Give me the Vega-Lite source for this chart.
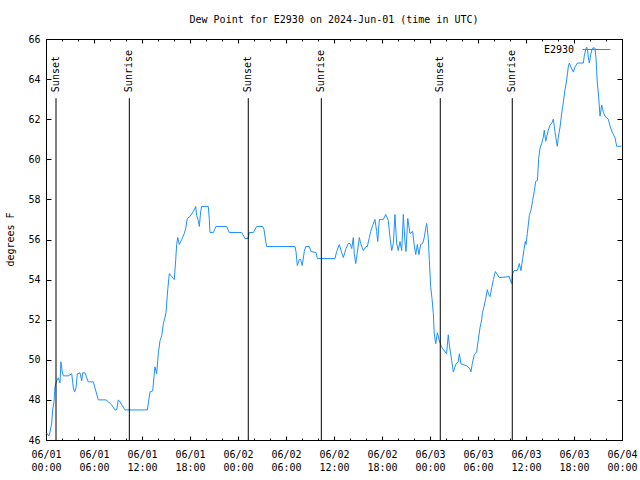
{
  "$schema": "https://vega.github.io/schema/vega-lite/v6.json",
  "width": 576,
  "height": 401,
  "autosize": {"type": "none"},
  "padding": {"left": 46, "top": 39, "right": 18, "bottom": 40},
  "background": "white",
  "title": {"text": "Dew Point for E2930 on 2024-Jun-01 (time in UTC)", "font": "DejaVu Sans Mono", "fontSize": 10, "fontWeight": "normal", "color": "black", "anchor": "middle", "baseline": "bottom", "offset": -1},
  "config": {
    "view": {"stroke": "black", "strokeWidth": 1},
    "axis": {"labelFont": "DejaVu Sans Mono", "labelFontSize": 10, "labelColor": "black", "titleFont": "DejaVu Sans Mono", "titleFontSize": 10, "titleFontWeight": "normal", "titleColor": "black", "tickColor": "black", "tickWidth": 1, "grid": false, "domain": false},
    "legend": {"orient": "none", "legendX": 536, "legendY": -4, "symbolType": "stroke", "symbolSize": 784, "symbolStrokeWidth": 1, "labelAlign": "right", "labelOffset": -37, "labelFont": "DejaVu Sans Mono", "labelFontSize": 10, "labelColor": "black", "padding": 0}
  },
  "datasets": {
    "dew": [
      {"t": "2024-06-01T00:05:00Z", "v": 46.35}, {"t": "2024-06-01T00:22:00Z", "v": 46.2}, {"t": "2024-06-01T00:30:00Z", "v": 46.4}, {"t": "2024-06-01T00:43:00Z", "v": 46.85}, {"t": "2024-06-01T00:50:00Z", "v": 47.5}, {"t": "2024-06-01T01:00:00Z", "v": 47.9}, {"t": "2024-06-01T01:07:00Z", "v": 48.65}, {"t": "2024-06-01T01:20:00Z", "v": 48.95}, {"t": "2024-06-01T01:32:00Z", "v": 49.1}, {"t": "2024-06-01T01:45:00Z", "v": 48.85}, {"t": "2024-06-01T01:52:00Z", "v": 49.9}, {"t": "2024-06-01T02:02:00Z", "v": 49.4}, {"t": "2024-06-01T02:10:00Z", "v": 49.2}, {"t": "2024-06-01T02:47:00Z", "v": 49.2}, {"t": "2024-06-01T03:13:00Z", "v": 49.3}, {"t": "2024-06-01T03:25:00Z", "v": 48.6}, {"t": "2024-06-01T03:35:00Z", "v": 48.4}, {"t": "2024-06-01T03:45:00Z", "v": 48.6}, {"t": "2024-06-01T03:55:00Z", "v": 49.3}, {"t": "2024-06-01T04:15:00Z", "v": 49.35}, {"t": "2024-06-01T04:28:00Z", "v": 48.95}, {"t": "2024-06-01T04:35:00Z", "v": 49.35}, {"t": "2024-06-01T04:52:00Z", "v": 49.35}, {"t": "2024-06-01T05:17:00Z", "v": 48.9}, {"t": "2024-06-01T05:55:00Z", "v": 48.9}, {"t": "2024-06-01T06:32:00Z", "v": 48.0}, {"t": "2024-06-01T07:30:00Z", "v": 48.0}, {"t": "2024-06-01T08:13:00Z", "v": 47.75}, {"t": "2024-06-01T08:37:00Z", "v": 47.5}, {"t": "2024-06-01T08:50:00Z", "v": 47.5}, {"t": "2024-06-01T09:02:00Z", "v": 48.0}, {"t": "2024-06-01T09:15:00Z", "v": 47.9}, {"t": "2024-06-01T09:52:00Z", "v": 47.5}, {"t": "2024-06-01T12:40:00Z", "v": 47.5}, {"t": "2024-06-01T13:00:00Z", "v": 48.4}, {"t": "2024-06-01T13:20:00Z", "v": 48.45}, {"t": "2024-06-01T13:37:00Z", "v": 49.65}, {"t": "2024-06-01T13:50:00Z", "v": 49.3}, {"t": "2024-06-01T14:02:00Z", "v": 50.3}, {"t": "2024-06-01T14:15:00Z", "v": 50.95}, {"t": "2024-06-01T14:28:00Z", "v": 51.2}, {"t": "2024-06-01T14:40:00Z", "v": 51.8}, {"t": "2024-06-01T14:52:00Z", "v": 52.1}, {"t": "2024-06-01T15:00:00Z", "v": 52.35}, {"t": "2024-06-01T15:13:00Z", "v": 53.5}, {"t": "2024-06-01T15:25:00Z", "v": 54.3}, {"t": "2024-06-01T15:43:00Z", "v": 54.15}, {"t": "2024-06-01T16:02:00Z", "v": 54.0}, {"t": "2024-06-01T16:13:00Z", "v": 55.0}, {"t": "2024-06-01T16:20:00Z", "v": 55.75}, {"t": "2024-06-01T16:28:00Z", "v": 56.1}, {"t": "2024-06-01T16:40:00Z", "v": 55.75}, {"t": "2024-06-01T16:58:00Z", "v": 56.0}, {"t": "2024-06-01T17:17:00Z", "v": 56.3}, {"t": "2024-06-01T17:28:00Z", "v": 56.55}, {"t": "2024-06-01T17:40:00Z", "v": 57.05}, {"t": "2024-06-01T18:00:00Z", "v": 57.15}, {"t": "2024-06-01T18:25:00Z", "v": 57.4}, {"t": "2024-06-01T18:43:00Z", "v": 57.65}, {"t": "2024-06-01T18:50:00Z", "v": 57.2}, {"t": "2024-06-01T19:02:00Z", "v": 56.95}, {"t": "2024-06-01T19:10:00Z", "v": 56.65}, {"t": "2024-06-01T19:20:00Z", "v": 57.4}, {"t": "2024-06-01T19:28:00Z", "v": 57.65}, {"t": "2024-06-01T20:17:00Z", "v": 57.65}, {"t": "2024-06-01T20:25:00Z", "v": 57.0}, {"t": "2024-06-01T20:30:00Z", "v": 56.35}, {"t": "2024-06-01T20:55:00Z", "v": 56.35}, {"t": "2024-06-01T21:15:00Z", "v": 56.65}, {"t": "2024-06-01T22:35:00Z", "v": 56.65}, {"t": "2024-06-01T22:55:00Z", "v": 56.35},
      {"t": "2024-06-02T00:28:00Z", "v": 56.35}, {"t": "2024-06-02T00:45:00Z", "v": 56.15}, {"t": "2024-06-02T00:52:00Z", "v": 56.05}, {"t": "2024-06-02T01:15:00Z", "v": 56.05}, {"t": "2024-06-02T01:25:00Z", "v": 56.35}, {"t": "2024-06-02T01:55:00Z", "v": 56.35}, {"t": "2024-06-02T02:20:00Z", "v": 56.65}, {"t": "2024-06-02T03:05:00Z", "v": 56.65}, {"t": "2024-06-02T03:15:00Z", "v": 56.5}, {"t": "2024-06-02T03:28:00Z", "v": 55.9}, {"t": "2024-06-02T03:35:00Z", "v": 55.65}, {"t": "2024-06-02T07:07:00Z", "v": 55.65}, {"t": "2024-06-02T07:15:00Z", "v": 55.4}, {"t": "2024-06-02T07:25:00Z", "v": 54.7}, {"t": "2024-06-02T07:40:00Z", "v": 55.0}, {"t": "2024-06-02T07:50:00Z", "v": 55.0}, {"t": "2024-06-02T08:02:00Z", "v": 54.7}, {"t": "2024-06-02T08:17:00Z", "v": 55.4}, {"t": "2024-06-02T08:28:00Z", "v": 55.65}, {"t": "2024-06-02T08:55:00Z", "v": 55.65}, {"t": "2024-06-02T09:07:00Z", "v": 55.4}, {"t": "2024-06-02T09:45:00Z", "v": 55.35}, {"t": "2024-06-02T09:55:00Z", "v": 55.05}, {"t": "2024-06-02T12:07:00Z", "v": 55.05}, {"t": "2024-06-02T12:20:00Z", "v": 55.4}, {"t": "2024-06-02T12:40:00Z", "v": 55.75}, {"t": "2024-06-02T12:55:00Z", "v": 55.4}, {"t": "2024-06-02T13:10:00Z", "v": 55.1}, {"t": "2024-06-02T13:30:00Z", "v": 55.55}, {"t": "2024-06-02T13:47:00Z", "v": 55.8}, {"t": "2024-06-02T14:00:00Z", "v": 55.8}, {"t": "2024-06-02T14:13:00Z", "v": 55.55}, {"t": "2024-06-02T14:25:00Z", "v": 56.1}, {"t": "2024-06-02T14:32:00Z", "v": 55.3}, {"t": "2024-06-02T14:43:00Z", "v": 54.8}, {"t": "2024-06-02T14:55:00Z", "v": 55.35}, {"t": "2024-06-02T15:10:00Z", "v": 56.1}, {"t": "2024-06-02T15:20:00Z", "v": 55.8}, {"t": "2024-06-02T15:40:00Z", "v": 55.45}, {"t": "2024-06-02T16:00:00Z", "v": 55.65}, {"t": "2024-06-02T16:10:00Z", "v": 55.65}, {"t": "2024-06-02T16:25:00Z", "v": 56.1}, {"t": "2024-06-02T16:35:00Z", "v": 56.4}, {"t": "2024-06-02T16:50:00Z", "v": 56.7}, {"t": "2024-06-02T17:07:00Z", "v": 57.0}, {"t": "2024-06-02T17:20:00Z", "v": 56.4}, {"t": "2024-06-02T17:28:00Z", "v": 55.9}, {"t": "2024-06-02T17:40:00Z", "v": 57.0}, {"t": "2024-06-02T18:10:00Z", "v": 57.0}, {"t": "2024-06-02T18:28:00Z", "v": 57.25}, {"t": "2024-06-02T18:47:00Z", "v": 56.95}, {"t": "2024-06-02T19:00:00Z", "v": 56.1}, {"t": "2024-06-02T19:13:00Z", "v": 55.45}, {"t": "2024-06-02T19:25:00Z", "v": 55.8}, {"t": "2024-06-02T19:37:00Z", "v": 57.25}, {"t": "2024-06-02T19:50:00Z", "v": 55.8}, {"t": "2024-06-02T20:02:00Z", "v": 55.45}, {"t": "2024-06-02T20:15:00Z", "v": 55.9}, {"t": "2024-06-02T20:28:00Z", "v": 55.45}, {"t": "2024-06-02T20:40:00Z", "v": 57.25}, {"t": "2024-06-02T20:52:00Z", "v": 55.9}, {"t": "2024-06-02T21:00:00Z", "v": 55.4}, {"t": "2024-06-02T21:13:00Z", "v": 57.05}, {"t": "2024-06-02T21:30:00Z", "v": 56.3}, {"t": "2024-06-02T21:50:00Z", "v": 56.4}, {"t": "2024-06-02T22:00:00Z", "v": 55.8}, {"t": "2024-06-02T22:13:00Z", "v": 55.25}, {"t": "2024-06-02T22:25:00Z", "v": 55.75}, {"t": "2024-06-02T22:37:00Z", "v": 55.25}, {"t": "2024-06-02T22:50:00Z", "v": 55.75}, {"t": "2024-06-02T23:05:00Z", "v": 55.8}, {"t": "2024-06-02T23:17:00Z", "v": 56.1}, {"t": "2024-06-02T23:28:00Z", "v": 56.55}, {"t": "2024-06-02T23:35:00Z", "v": 56.8}, {"t": "2024-06-02T23:40:00Z", "v": 56.5}, {"t": "2024-06-02T23:47:00Z", "v": 56.05}, {"t": "2024-06-02T23:55:00Z", "v": 55.0},
      {"t": "2024-06-03T00:05:00Z", "v": 53.65}, {"t": "2024-06-03T00:15:00Z", "v": 53.05}, {"t": "2024-06-03T00:25:00Z", "v": 52.3}, {"t": "2024-06-03T00:32:00Z", "v": 51.3}, {"t": "2024-06-03T00:43:00Z", "v": 50.8}, {"t": "2024-06-03T00:55:00Z", "v": 51.35}, {"t": "2024-06-03T01:10:00Z", "v": 50.95}, {"t": "2024-06-03T01:26:00Z", "v": 50.65}, {"t": "2024-06-03T02:04:00Z", "v": 50.3}, {"t": "2024-06-03T02:17:00Z", "v": 51.25}, {"t": "2024-06-03T02:26:00Z", "v": 50.7}, {"t": "2024-06-03T02:43:00Z", "v": 49.95}, {"t": "2024-06-03T02:55:00Z", "v": 49.4}, {"t": "2024-06-03T03:15:00Z", "v": 49.8}, {"t": "2024-06-03T03:32:00Z", "v": 49.9}, {"t": "2024-06-03T03:40:00Z", "v": 50.3}, {"t": "2024-06-03T03:52:00Z", "v": 49.8}, {"t": "2024-06-03T04:35:00Z", "v": 49.7}, {"t": "2024-06-03T05:00:00Z", "v": 49.55}, {"t": "2024-06-03T05:07:00Z", "v": 49.4}, {"t": "2024-06-03T05:17:00Z", "v": 49.8}, {"t": "2024-06-03T05:32:00Z", "v": 50.25}, {"t": "2024-06-03T05:50:00Z", "v": 50.4}, {"t": "2024-06-03T06:02:00Z", "v": 51.0}, {"t": "2024-06-03T06:15:00Z", "v": 51.6}, {"t": "2024-06-03T06:28:00Z", "v": 52.0}, {"t": "2024-06-03T06:32:00Z", "v": 52.3}, {"t": "2024-06-03T06:45:00Z", "v": 52.65}, {"t": "2024-06-03T06:58:00Z", "v": 53.05}, {"t": "2024-06-03T07:10:00Z", "v": 53.5}, {"t": "2024-06-03T07:20:00Z", "v": 53.25}, {"t": "2024-06-03T07:30:00Z", "v": 53.15}, {"t": "2024-06-03T07:43:00Z", "v": 53.6}, {"t": "2024-06-03T07:55:00Z", "v": 54.0}, {"t": "2024-06-03T08:10:00Z", "v": 54.4}, {"t": "2024-06-03T08:25:00Z", "v": 54.25}, {"t": "2024-06-03T08:40:00Z", "v": 54.1}, {"t": "2024-06-03T09:55:00Z", "v": 54.15}, {"t": "2024-06-03T10:05:00Z", "v": 53.9}, {"t": "2024-06-03T10:13:00Z", "v": 53.8}, {"t": "2024-06-03T10:20:00Z", "v": 54.3}, {"t": "2024-06-03T10:30:00Z", "v": 54.45}, {"t": "2024-06-03T10:55:00Z", "v": 54.45}, {"t": "2024-06-03T11:10:00Z", "v": 54.8}, {"t": "2024-06-03T11:22:00Z", "v": 54.45}, {"t": "2024-06-03T11:35:00Z", "v": 55.05}, {"t": "2024-06-03T11:45:00Z", "v": 55.5}, {"t": "2024-06-03T11:55:00Z", "v": 55.9}, {"t": "2024-06-03T12:00:00Z", "v": 55.75}, {"t": "2024-06-03T12:10:00Z", "v": 56.3}, {"t": "2024-06-03T12:25:00Z", "v": 57.2}, {"t": "2024-06-03T12:37:00Z", "v": 57.45}, {"t": "2024-06-03T12:50:00Z", "v": 57.95}, {"t": "2024-06-03T13:02:00Z", "v": 58.4}, {"t": "2024-06-03T13:13:00Z", "v": 58.9}, {"t": "2024-06-03T13:26:00Z", "v": 58.95}, {"t": "2024-06-03T13:35:00Z", "v": 60.05}, {"t": "2024-06-03T13:45:00Z", "v": 60.55}, {"t": "2024-06-03T13:58:00Z", "v": 60.8}, {"t": "2024-06-03T14:10:00Z", "v": 61.1}, {"t": "2024-06-03T14:17:00Z", "v": 61.45}, {"t": "2024-06-03T14:28:00Z", "v": 60.9}, {"t": "2024-06-03T14:35:00Z", "v": 61.1}, {"t": "2024-06-03T14:47:00Z", "v": 61.45}, {"t": "2024-06-03T15:00:00Z", "v": 61.7}, {"t": "2024-06-03T15:13:00Z", "v": 61.8}, {"t": "2024-06-03T15:25:00Z", "v": 62.0}, {"t": "2024-06-03T15:37:00Z", "v": 61.4}, {"t": "2024-06-03T15:50:00Z", "v": 60.8}, {"t": "2024-06-03T15:55:00Z", "v": 60.65}, {"t": "2024-06-03T16:02:00Z", "v": 61.1}, {"t": "2024-06-03T16:15:00Z", "v": 61.6}, {"t": "2024-06-03T16:28:00Z", "v": 62.3}, {"t": "2024-06-03T16:40:00Z", "v": 62.85}, {"t": "2024-06-03T16:52:00Z", "v": 63.45}, {"t": "2024-06-03T17:05:00Z", "v": 63.95}, {"t": "2024-06-03T17:17:00Z", "v": 64.6}, {"t": "2024-06-03T17:25:00Z", "v": 64.8}, {"t": "2024-06-03T17:37:00Z", "v": 64.6}, {"t": "2024-06-03T17:55:00Z", "v": 64.35}, {"t": "2024-06-03T18:07:00Z", "v": 64.6}, {"t": "2024-06-03T18:25:00Z", "v": 64.8}, {"t": "2024-06-03T19:10:00Z", "v": 64.8}, {"t": "2024-06-03T19:17:00Z", "v": 65.15}, {"t": "2024-06-03T19:28:00Z", "v": 65.5}, {"t": "2024-06-03T19:35:00Z", "v": 65.6}, {"t": "2024-06-03T19:43:00Z", "v": 65.4}, {"t": "2024-06-03T19:47:00Z", "v": 65.1}, {"t": "2024-06-03T19:55:00Z", "v": 64.8}, {"t": "2024-06-03T20:05:00Z", "v": 65.2}, {"t": "2024-06-03T20:13:00Z", "v": 65.45}, {"t": "2024-06-03T20:20:00Z", "v": 65.55}, {"t": "2024-06-03T20:37:00Z", "v": 65.55}, {"t": "2024-06-03T20:45:00Z", "v": 65.05}, {"t": "2024-06-03T20:55:00Z", "v": 63.8}, {"t": "2024-06-03T21:05:00Z", "v": 63.1}, {"t": "2024-06-03T21:15:00Z", "v": 62.15}, {"t": "2024-06-03T21:28:00Z", "v": 62.7}, {"t": "2024-06-03T21:40:00Z", "v": 62.35}, {"t": "2024-06-03T21:52:00Z", "v": 62.15}, {"t": "2024-06-03T22:17:00Z", "v": 62.0}, {"t": "2024-06-03T22:35:00Z", "v": 61.55}, {"t": "2024-06-03T22:50:00Z", "v": 61.3}, {"t": "2024-06-03T23:07:00Z", "v": 61.1}, {"t": "2024-06-03T23:20:00Z", "v": 60.65}, {"t": "2024-06-03T23:55:00Z", "v": 60.65}
    ],
    "sun": [
      {"t": "2024-06-01T01:15:00Z", "ev": "Sunset"},
      {"t": "2024-06-01T10:25:00Z", "ev": "Sunrise"},
      {"t": "2024-06-02T01:17:00Z", "ev": "Sunset"},
      {"t": "2024-06-02T10:25:00Z", "ev": "Sunrise"},
      {"t": "2024-06-03T01:17:00Z", "ev": "Sunset"},
      {"t": "2024-06-03T10:17:00Z", "ev": "Sunrise"}
    ]
  },
  "resolve": {"axis": {"x": "independent", "y": "independent"}},
  "layer": [
    {
      "data": {"name": "dew"},
      "mark": {"type": "line", "strokeWidth": 1, "interpolate": "linear"},
      "encoding": {
        "x": {
          "field": "t", "type": "temporal",
          "scale": {"type": "utc", "domain": [1717200000000, 1717459200000], "nice": false},
          "axis": {
            "orient": "bottom", "title": null,
            "values": [1717200000000, 1717221600000, 1717243200000, 1717264800000, 1717286400000, 1717308000000, 1717329600000, 1717351200000, 1717372800000, 1717394400000, 1717416000000, 1717437600000, 1717459200000],
            "tickSize": -4,
            "labelExpr": "[utcFormat(datum.value, '%m/%d'), utcFormat(datum.value, '%H:%M')]",
            "labelPadding": 13, "labelBaseline": "top", "labelAlign": "center", "labelLineHeight": 13,
            "labelOverlap": false, "labelFlush": false, "labelBound": false
          }
        },
        "y": {
          "field": "v", "type": "quantitative",
          "scale": {"domain": [46, 66], "nice": false, "zero": false},
          "axis": {
            "orient": "left", "title": "degrees F",
            "values": [46, 48, 50, 52, 54, 56, 58, 60, 62, 64, 66],
            "tickSize": -5, "labelPadding": 11, "labelFlush": false, "labelOverlap": false,
            "titleX": -36, "titleY": 200, "titleAngle": 270, "titleAlign": "center", "titleBaseline": "middle"
          }
        },
        "color": {"datum": "E2930", "type": "nominal", "scale": {"range": ["#1e90ff"]}, "legend": {"title": null}}
      }
    },
    {
      "data": {"name": "sun"},
      "mark": {"type": "rule", "color": "black", "strokeWidth": 1},
      "encoding": {
        "x": {
          "field": "t", "type": "temporal",
          "axis": {"orient": "bottom", "title": null, "labels": false, "tickSize": -2,
            "values": [1717200000000, 1717207200000, 1717214400000, 1717221600000, 1717228800000, 1717236000000, 1717243200000, 1717250400000, 1717257600000, 1717264800000, 1717272000000, 1717279200000, 1717286400000, 1717293600000, 1717300800000, 1717308000000, 1717315200000, 1717322400000, 1717329600000, 1717336800000, 1717344000000, 1717351200000, 1717358400000, 1717365600000, 1717372800000, 1717380000000, 1717387200000, 1717394400000, 1717401600000, 1717408800000, 1717416000000, 1717423200000, 1717430400000, 1717437600000, 1717444800000, 1717452000000, 1717459200000]}
        },
        "y": {"datum": 63.05, "type": "quantitative", "axis": {"orient": "right", "title": null, "labels": false, "values": [46, 48, 50, 52, 54, 56, 58, 60, 62, 64, 66], "tickSize": -5}},
        "y2": {"datum": 46}
      }
    },
    {
      "data": {"name": "sun"},
      "transform": [{"filter": "datum.ev == 'Sunset'"}],
      "mark": {"type": "text", "font": "DejaVu Sans Mono", "fontSize": 10, "angle": 270, "align": "left", "baseline": "middle", "dx": 6, "color": "black"},
      "encoding": {
        "x": {"field": "t", "type": "temporal", "axis": {"orient": "top", "title": null, "labels": false, "tickSize": -4,
          "values": [1717200000000, 1717221600000, 1717243200000, 1717264800000, 1717286400000, 1717308000000, 1717329600000, 1717351200000, 1717372800000, 1717394400000, 1717416000000, 1717437600000, 1717459200000]}},
        "y": {"datum": 63.05, "type": "quantitative", "axis": null},
        "text": {"field": "ev"}
      }
    },
    {
      "data": {"name": "sun"},
      "transform": [{"filter": "datum.ev == 'Sunrise'"}],
      "mark": {"type": "text", "font": "DejaVu Sans Mono", "fontSize": 10, "angle": 270, "align": "left", "baseline": "middle", "dx": 6, "color": "black"},
      "encoding": {
        "x": {"field": "t", "type": "temporal", "axis": {"orient": "top", "title": null, "labels": false, "tickSize": -2,
          "values": [1717200000000, 1717207200000, 1717214400000, 1717221600000, 1717228800000, 1717236000000, 1717243200000, 1717250400000, 1717257600000, 1717264800000, 1717272000000, 1717279200000, 1717286400000, 1717293600000, 1717300800000, 1717308000000, 1717315200000, 1717322400000, 1717329600000, 1717336800000, 1717344000000, 1717351200000, 1717358400000, 1717365600000, 1717372800000, 1717380000000, 1717387200000, 1717394400000, 1717401600000, 1717408800000, 1717416000000, 1717423200000, 1717430400000, 1717437600000, 1717444800000, 1717452000000, 1717459200000]}},
        "y": {"datum": 63.05, "type": "quantitative", "axis": null},
        "text": {"field": "ev"}
      }
    }
  ]
}
